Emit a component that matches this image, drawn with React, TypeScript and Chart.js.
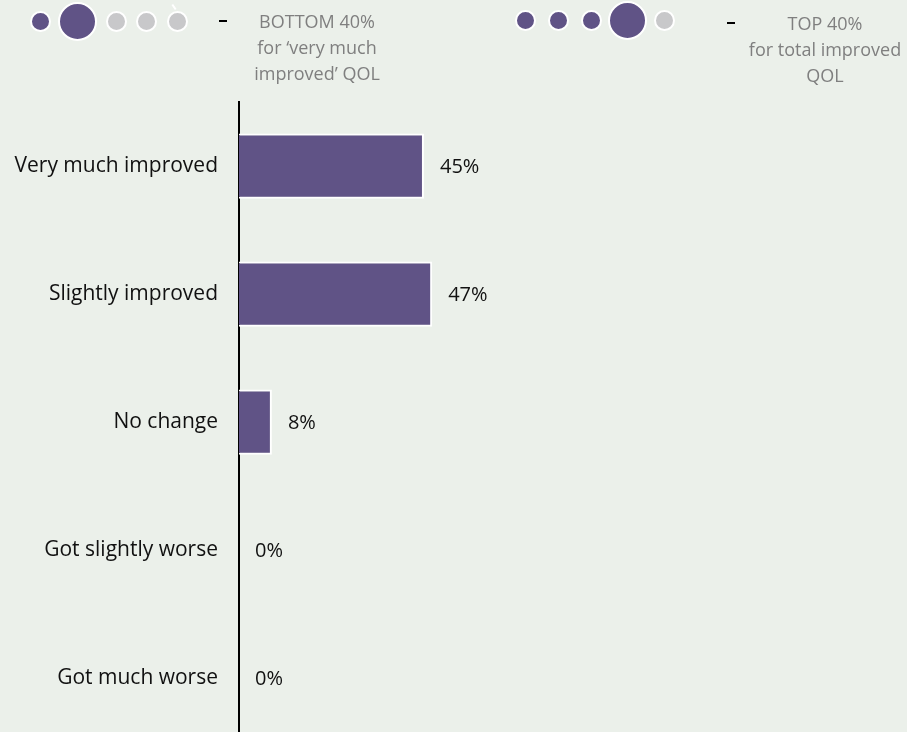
import React, { useEffect, useRef } from 'react';
import { Chart, registerables } from 'chart.js';

Chart.register(...registerables);

const categories = ['Very much improved', 'Slightly improved', 'No change', 'Got slightly worse', 'Got much worse'];
const values = [45, 47, 8, 0, 0];
const valueLabels = ['45%', '47%', '8%', '0%', '0%'];

const leftDots = ['small-purple', 'big-purple', 'small-gray', 'small-gray', 'small-gray'];
const rightDots = ['small-purple', 'small-purple', 'small-purple', 'big-purple', 'small-gray'];
const leftText = ['BOTTOM 40%', 'for \u2018very much', 'improved\u2019 QOL'];
const rightText = ['TOP 40%', 'for total improved', 'QOL'];

const PURPLE = '#605386';
const GRAY = '#C8C8CA';
const BG = '#EBF0EA';

function Dot({ kind, cx, cy }: { kind: string; cx: number; cy: number }) {
  const big = kind.startsWith('big');
  const d = big ? 35 : 17;
  const b = 2;
  const total = d + 2 * b;
  return (
    <div
      style={{
        position: 'absolute',
        left: cx - total / 2,
        top: cy - total / 2,
        width: d,
        height: d,
        borderRadius: '50%',
        border: `${b}px solid #ffffff`,
        background: kind.endsWith('purple') ? PURPLE : GRAY,
      }}
    />
  );
}

const leftDotX = [40, 77, 116, 146, 177];
const rightDotX = [525, 558, 591, 627, 664];

export default function App() {
  const ref = useRef<HTMLCanvasElement | null>(null);

  useEffect(() => {
    if (!ref.current) return;
    const labelPlugin = {
      id: 'valueLabels',
      afterDatasetsDraw(chart: any) {
        const ctx = chart.ctx;
        const meta = chart.getDatasetMeta(0);
        ctx.save();
        ctx.font = '20px "Open Sans"';
        ctx.fillStyle = '#111111';
        ctx.textAlign = 'left';
        ctx.textBaseline = 'middle';
        meta.data.forEach((bar: any, i: number) => {
          ctx.fillText(valueLabels[i], bar.x + 16, bar.y + 1);
        });
        ctx.restore();
      },
    };
    const chart = new Chart(ref.current, {
      type: 'bar',
      data: {
        labels: categories,
        datasets: [
          {
            data: values,
            backgroundColor: PURPLE,
            borderColor: '#ffffff',
            borderWidth: 2,
            borderSkipped: 'start',
            barPercentage: 0.51,
            categoryPercentage: 1,
          },
        ],
      },
      options: {
        indexAxis: 'y',
        responsive: false,
        animation: false,
        layout: { padding: { top: 102, bottom: 5, left: 0, right: 257 } },
        plugins: { legend: { display: false }, tooltip: { enabled: false } },
        scales: {
          x: { display: false, min: 0, max: 100 },
          y: {
            afterFit: (s: any) => {
              s.width = 239;
            },
            grid: { display: false, drawTicks: false },
            border: { display: true, color: '#000000', width: 2 },
            ticks: {
              padding: 21,
              color: '#111111',
              font: { family: '"Open Sans"', size: 21 },
            },
          },
        },
      },
      plugins: [labelPlugin],
    });
    return () => chart.destroy();
  }, []);

  const textStyle: React.CSSProperties = {
    position: 'absolute',
    width: 240,
    textAlign: 'center',
    fontFamily: '"Open Sans"',
    fontSize: 18,
    lineHeight: '26px',
    color: '#7F7F7F',
  };

  return (
    <div style={{ position: 'relative', width: 907, height: 732, overflow: 'hidden', background: BG }}>
      <style>{`body{margin:0;overflow:hidden;background:${BG};}`}</style>
      <canvas ref={ref} width={907} height={776} style={{ position: 'absolute', left: 0, top: 0, width: 907, height: 776 }} />
      {leftDots.map((k, i) => (
        <Dot key={'l' + i} kind={k} cx={leftDotX[i]} cy={21} />
      ))}
      {rightDots.map((k, i) => (
        <Dot key={'r' + i} kind={k} cx={rightDotX[i]} cy={20} />
      ))}
      <div
        style={{
          position: 'absolute',
          left: 173,
          top: 4,
          width: 2,
          height: 6,
          background: '#ffffff',
          transform: 'rotate(-35deg)',
        }}
      />
      <div style={{ position: 'absolute', left: 219, top: 20, width: 8, height: 2, background: '#000' }} />
      <div style={{ position: 'absolute', left: 727, top: 22, width: 8, height: 2, background: '#000' }} />
      <div style={{ ...textStyle, left: 317 - 120, top: 8 }}>
        {leftText.map((t, i) => (
          <div key={i}>{t}</div>
        ))}
      </div>
      <div style={{ ...textStyle, left: 825 - 120, top: 10 }}>
        {rightText.map((t, i) => (
          <div key={i}>{t}</div>
        ))}
      </div>
    </div>
  );
}
